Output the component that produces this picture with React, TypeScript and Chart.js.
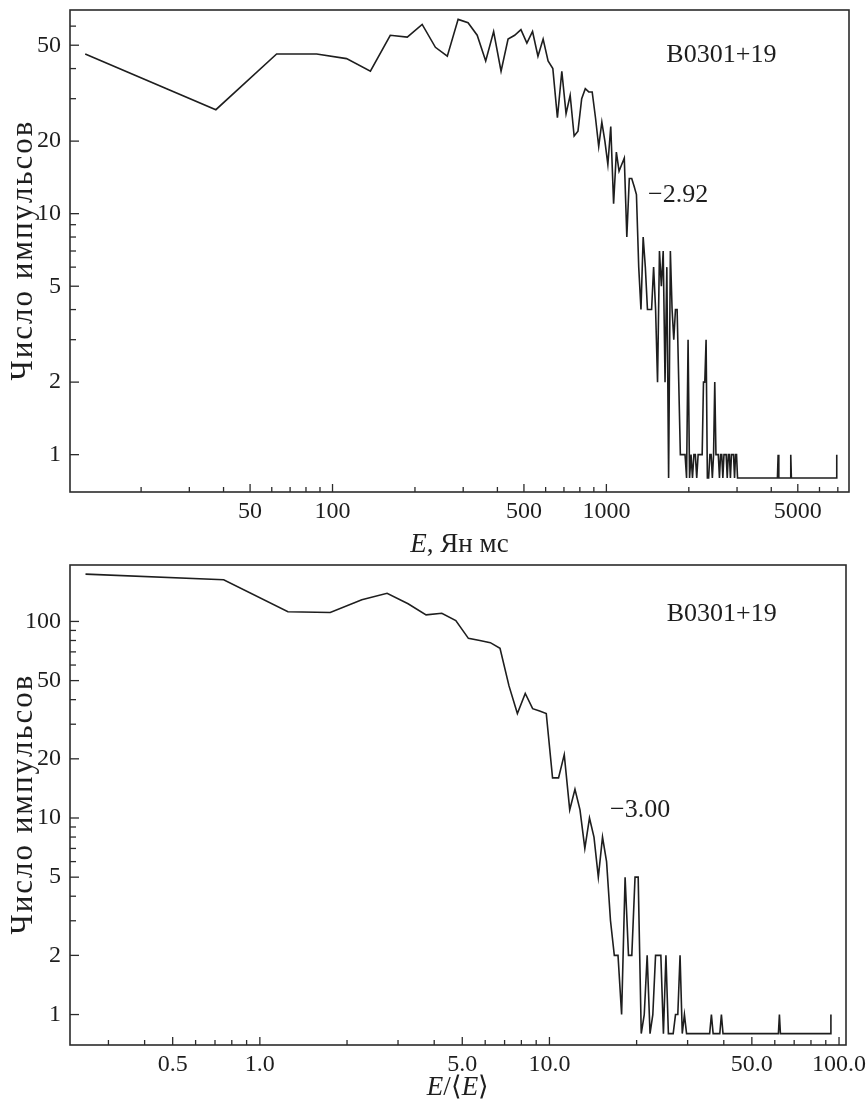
import React, { useEffect, useRef } from 'react';
import { Chart, registerables } from 'chart.js';

Chart.register(...registerables);

// ---------- DATA ----------
// Top panel: pulse energy E (Jy ms, bin centres) and number of pulses (0.8 = empty bin as drawn)
const topEnergy = [
  12.5, 37.5, 62.5, 87.5, 112.5, 137.5, 162.5, 187.5, 212.5, 237.5, 262.5, 287.5, 312.5, 337.5,
  362.5, 387.5, 412.5, 437.5, 462.5, 487.5, 512.5, 537.5, 562.5, 587.5, 612.5, 637.5, 662.5,
  687.5, 712.5, 737.5, 762.5, 787.5, 812.5, 837.5, 862.5, 887.5, 912.5, 937.5, 962.5, 987.5,
  1012.5, 1037.5, 1062.5, 1087.5, 1112.5, 1137.5, 1162.5, 1187.5, 1212.5, 1237.5, 1262.5,
  1287.5, 1312.5, 1337.5, 1362.5, 1387.5, 1412.5, 1437.5, 1462.5, 1487.5, 1512.5, 1537.5,
  1562.5, 1587.5, 1612.5, 1637.5, 1662.5, 1687.5, 1712.5, 1737.5, 1762.5, 1787.5, 1812.5,
  1837.5, 1862.5, 1887.5, 1912.5, 1937.5, 1962.5, 1987.5, 2012.5, 2037.5, 2062.5, 2087.5,
  2112.5, 2137.5, 2162.5, 2187.5, 2212.5, 2237.5, 2262.5, 2287.5, 2312.5, 2337.5, 2362.5,
  2387.5, 2412.5, 2437.5, 2462.5, 2487.5, 2512.5, 2537.5, 2562.5, 2587.5, 2612.5, 2637.5,
  2662.5, 2687.5, 2712.5, 2737.5, 2762.5, 2787.5, 2812.5, 2837.5, 2862.5, 2887.5, 2912.5,
  2937.5, 2962.5, 2987.5, 3012.5, 4212.5, 4237.5, 4262.5, 4687.5, 4712.5, 4737.5, 6912.5, 6937.5,
];
const topCounts = [
  46, 27, 46, 46, 44, 39, 55, 54, 61, 49, 45, 64, 62, 55,
  43, 57, 39, 53, 55, 58, 51, 57, 45, 53, 43, 40, 25,
  39, 26, 31, 21, 22, 30, 33, 32, 32, 25, 19, 24, 20,
  16, 23, 11, 18, 15, 16, 17, 8, 14, 14, 13,
  12, 6, 4, 8, 6, 4, 4, 4, 6, 4, 2,
  7, 5, 7, 2, 6, 0.8, 7, 4, 3, 4, 4,
  2, 1, 1, 1, 1, 0.8, 3, 0.8, 1, 0.8, 1,
  1, 0.8, 1, 1, 1, 1, 2, 2, 3, 0.8, 0.8,
  1, 1, 0.8, 1, 2, 1, 1, 1, 0.8, 1, 1,
  0.8, 1, 1, 1, 0.8, 1, 1, 0.8, 1, 1, 1,
  0.8, 1, 1, 0.8, 0.8, 1, 0.8, 0.8, 1, 0.8, 0.8, 1,
];

// Bottom panel: E/<E> (bin centres) and number of pulses
const bottomRatio = [
  0.25, 0.75, 1.25, 1.75, 2.25, 2.75, 3.25, 3.75, 4.25, 4.75, 5.25, 5.75, 6.25, 6.75,
  7.25, 7.75, 8.25, 8.75, 9.25, 9.75, 10.25, 10.75, 11.25, 11.75, 12.25, 12.75, 13.25,
  13.75, 14.25, 14.75, 15.25, 15.75, 16.25, 16.75, 17.25, 17.75, 18.25, 18.75, 19.25,
  19.75, 20.25, 20.75, 21.25, 21.75, 22.25, 22.75, 23.25, 23.75, 24.25, 24.75, 25.25,
  25.75, 26.25, 26.75, 27.25, 27.75, 28.25, 28.75, 29.25, 29.75, 35.75, 36.25, 36.75,
  38.75, 39.25, 39.75, 61.75, 62.25, 62.75, 93.25, 93.75,
];
const bottomCounts = [
  174, 163, 112, 111, 129, 139, 123, 108, 110, 101, 82, 80, 78, 73,
  47, 34, 43, 36, 35, 34, 16, 16, 21, 11, 14, 11, 7,
  10, 8, 5, 8, 6, 3, 2, 2, 1, 5, 2, 2,
  5, 5, 0.8, 1, 2, 0.8, 1, 2, 2, 2, 0.8, 2,
  0.8, 0.8, 0.8, 1, 1, 2, 0.8, 1, 0.8, 0.8, 1, 0.8,
  0.8, 1, 0.8, 0.8, 1, 0.8, 0.8, 1,
];

// Tick values and labels
const topXMajor = [50, 100, 500, 1000, 5000];
const topXLabels = ['50', '100', '500', '1000', '5000'];
const topXMinor = [20, 30, 40, 60, 70, 80, 90, 200, 300, 400, 600, 700, 800, 900, 2000, 3000, 4000, 6000, 7000];
const topYMajor = [1, 2, 5, 10, 20, 50];
const topYLabels = ['1', '2', '5', '10', '20', '50'];
const topYMinor = [3, 4, 6, 7, 8, 9, 30, 40, 60];

const bottomXMajor = [0.5, 1, 5, 10, 50, 100];
const bottomXLabels = ['0.5', '1.0', '5.0', '10.0', '50.0', '100.0'];
const bottomXMinor = [0.3, 0.4, 0.6, 0.7, 0.8, 0.9, 2, 3, 4, 6, 7, 8, 9, 20, 30, 40, 60, 70, 80, 90];
const bottomYMajor = [1, 2, 5, 10, 20, 50, 100];
const bottomYLabels = ['1', '2', '5', '10', '20', '50', '100'];
const bottomYMinor = [3, 4, 6, 7, 8, 9, 30, 40, 60, 70, 80, 90];

const yTitle = 'Число импульсов';
const pulsarName = 'B0301+19';
const topSlope = '\u22122.92';
const bottomSlope = '\u22123.00';

const FONT = '"Liberation Serif", "Times New Roman", serif';
const INK = '#1e1e1e';

type Part = { text: string; italic: boolean };

const framePlugin = {
  id: 'frameTicks',
  afterDatasetsDraw(chart: any, _args: any, opts: any) {
    const { ctx, chartArea: a } = chart;
    const x = chart.scales.x;
    const y = chart.scales.y;
    ctx.save();
    ctx.strokeStyle = '#2b2b2b';
    ctx.lineWidth = 1.6;
    ctx.strokeRect(a.left, a.top, a.right - a.left, a.bottom - a.top);
    ctx.lineWidth = 1.3;
    const seg = (x1: number, y1: number, x2: number, y2: number) => {
      ctx.beginPath();
      ctx.moveTo(x1, y1);
      ctx.lineTo(x2, y2);
      ctx.stroke();
    };
    opts.xMajor.forEach((v: number) => { const p = x.getPixelForValue(v); seg(p, a.bottom, p, a.bottom - 8); });
    opts.xMinor.forEach((v: number) => { const p = x.getPixelForValue(v); seg(p, a.bottom, p, a.bottom - 5); });
    opts.yMajor.forEach((v: number) => { const p = y.getPixelForValue(v); seg(a.left, p, a.left + 9, p); });
    opts.yMinor.forEach((v: number) => { const p = y.getPixelForValue(v); seg(a.left, p, a.left + 6, p); });

    ctx.fillStyle = INK;
    ctx.textBaseline = 'alphabetic';
    ctx.textAlign = 'left';
    ctx.font = '26px ' + FONT;
    opts.notes.forEach((n: any) => {
      ctx.fillText(n.text, x.getPixelForValue(n.x), y.getPixelForValue(n.y));
    });

    // x-axis title with italic parts
    const parts: Part[] = opts.xTitle;
    const fonts = parts.map((p) => (p.italic ? 'italic ' : '') + '27px ' + FONT);
    const widths = parts.map((p, i) => { ctx.font = fonts[i]; return ctx.measureText(p.text).width; });
    const total = widths.reduce((s, w) => s + w, 0);
    let cx = (a.left + a.right) / 2 - total / 2;
    const base = a.bottom + opts.titleOffset;
    parts.forEach((p, i) => {
      ctx.font = fonts[i];
      ctx.fillText(p.text, cx, base);
      cx += widths[i];
    });

    // y-axis title, rotated
    ctx.font = '31px ' + FONT;
    const chars = Array.from(yTitle);
    const spacing = 2;
    const cw = chars.map((c) => ctx.measureText(c).width);
    const len = cw.reduce((s, w) => s + w, 0) + spacing * (chars.length - 1);
    ctx.translate(32, (a.top + a.bottom) / 2);
    ctx.rotate(-Math.PI / 2);
    let tx = -len / 2;
    chars.forEach((c, i) => {
      ctx.fillText(c, tx, 0);
      tx += cw[i] + spacing;
    });
    ctx.restore();
  },
};

function makeConfig(p: any) {
  return {
    type: 'line',
    data: {
      datasets: [
        {
          data: p.xs.map((v: number, i: number) => ({ x: v, y: p.ys[i] })),
          borderColor: INK,
          borderWidth: 1.6,
          pointRadius: 0,
          tension: 0,
          fill: false,
        },
      ],
    },
    plugins: [framePlugin],
    options: {
      animation: false,
      responsive: false,
      devicePixelRatio: 1,
      layout: { padding: p.padding },
      plugins: {
        legend: { display: false },
        tooltip: { enabled: false },
        frameTicks: {
          xMajor: p.xMajor,
          xMinor: p.xMinor,
          yMajor: p.yMajor,
          yMinor: p.yMinor,
          notes: p.notes,
          xTitle: p.xTitle,
          titleOffset: p.titleOffset,
        },
      },
      scales: {
        x: {
          type: 'logarithmic',
          min: p.xMin,
          max: p.xMax,
          grid: { display: false, drawTicks: false },
          border: { display: false },
          ticks: {
            autoSkip: false,
            maxRotation: 0,
            padding: 5,
            color: INK,
            font: { family: FONT, size: 24 },
            callback: (v: number) => {
              const i = p.xMajor.indexOf(v);
              return i >= 0 ? p.xLabels[i] : '';
            },
          },
          afterBuildTicks: (s: any) => { s.ticks = p.xMajor.map((v: number) => ({ value: v })); },
          afterFit: (s: any) => { s.height = p.xAxisHeight; s.paddingLeft = 0; s.paddingRight = 0; },
        },
        y: {
          type: 'logarithmic',
          min: p.yMin,
          max: p.yMax,
          grid: { display: false, drawTicks: false },
          border: { display: false },
          title: { display: false },
          ticks: {
            autoSkip: false,
            padding: 9,
            color: INK,
            font: { family: FONT, size: 24 },
            callback: (v: number) => {
              const i = p.yMajor.indexOf(v);
              return i >= 0 ? p.yLabels[i] : '';
            },
          },
          afterBuildTicks: (s: any) => { s.ticks = p.yMajor.map((v: number) => ({ value: v })); },
          afterFit: (s: any) => { s.width = 70; s.paddingTop = 0; s.paddingBottom = 0; },
        },
      },
    },
  };
}

function Panel({ cfg, width, height, top }: { cfg: any; width: number; height: number; top: number }) {
  const ref = useRef<HTMLCanvasElement | null>(null);
  useEffect(() => {
    if (!ref.current) return;
    const chart = new Chart(ref.current, makeConfig(cfg) as any);
    return () => chart.destroy();
  }, [cfg]);
  return (
    <canvas
      ref={ref}
      width={width}
      height={height}
      style={{ position: 'absolute', left: 0, top, width, height, display: 'block' }}
    />
  );
}

const topPanel = {
  xs: topEnergy,
  ys: topCounts,
  xMin: 11,
  xMax: 7690,
  yMin: 0.74,
  yMax: 70,
  xMajor: topXMajor,
  xLabels: topXLabels,
  xMinor: topXMinor,
  yMajor: topYMajor,
  yLabels: topYLabels,
  yMinor: topYMinor,
  padding: { top: 10, left: 0, right: 19, bottom: 0 },
  xAxisHeight: 66,
  titleOffset: 60,
  xTitle: [
    { text: 'E', italic: true },
    { text: ', Ян мс', italic: false },
  ],
  notes: [
    { text: pulsarName, x: 1656, y: 42.5 },
    { text: topSlope, x: 1419, y: 11.2 },
  ],
};

const bottomPanel = {
  xs: bottomRatio,
  ys: bottomCounts,
  xMin: 0.221,
  xMax: 105.7,
  yMin: 0.719,
  yMax: 193.7,
  xMajor: bottomXMajor,
  xLabels: bottomXLabels,
  xMinor: bottomXMinor,
  yMajor: bottomYMajor,
  yLabels: bottomYLabels,
  yMinor: bottomYMinor,
  padding: { top: 7, left: 0, right: 22, bottom: 0 },
  xAxisHeight: 55,
  titleOffset: 50,
  xTitle: [
    { text: 'E', italic: true },
    { text: '/\u27E8', italic: false },
    { text: 'E', italic: true },
    { text: '\u27E9', italic: false },
  ],
  notes: [
    { text: pulsarName, x: 25.4, y: 100.8 },
    { text: bottomSlope, x: 16.2, y: 10.1 },
  ],
};

export default function App() {
  return (
    <div style={{ position: 'absolute', left: 0, top: 0, width: 868, height: 1100, background: '#fff' }}>
      <Panel cfg={topPanel} width={868} height={558} top={0} />
      <Panel cfg={bottomPanel} width={868} height={542} top={558} />
    </div>
  );
}
